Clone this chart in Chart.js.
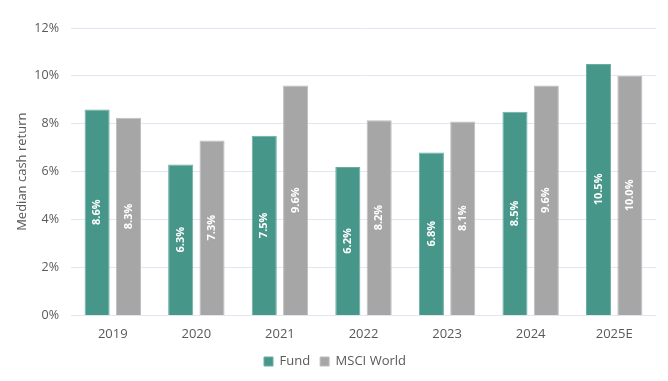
<!DOCTYPE html>
<html>
<head>
<meta charset="utf-8">
<script src="https://cdn.jsdelivr.net/npm/chart.js@4/dist/chart.umd.min.js"></script>
<style>
html,body{margin:0;padding:0;background:#fff;}
#wrap{width:668px;height:381px;}
</style>
</head>
<body>
<div id="wrap"><canvas id="c" width="668" height="381"></canvas></div>
<script>
const categories = ["2019", "2020", "2021", "2022", "2023", "2024", "2025E"];
const fundValues = [8.6, 6.3, 7.5, 6.2, 6.8, 8.5, 10.5];
const msciValues = [8.25, 7.3, 9.6, 8.15, 8.1, 9.6, 10.0];
const yTicks = [0, 2, 4, 6, 8, 10, 12];

const FONT = "'Open Sans', sans-serif";

const barLabels = {
  id: 'barLabels',
  afterDatasetsDraw(chart) {
    const ctx = chart.ctx;
    chart.data.datasets.forEach((ds, di) => {
      const meta = chart.getDatasetMeta(di);
      meta.data.forEach((bar, i) => {
        const v = ds.data[i];
        const txt = v.toFixed(1) + '%';
        const yMid = (bar.y + bar.base) / 2;
        ctx.save();
        ctx.translate(bar.x, yMid);
        ctx.rotate(-Math.PI / 2);
        ctx.fillStyle = '#ffffff';
        ctx.font = "bold 11px " + FONT;
        ctx.textAlign = 'center';
        ctx.textBaseline = 'middle';
        ctx.fillText(txt, 0, 0);
        ctx.restore();
      });
    });
  }
};

new Chart(document.getElementById('c'), {
  type: 'bar',
  data: {
    labels: categories,
    datasets: [
      { label: 'Fund', data: fundValues, backgroundColor: '#46978a', borderColor: '#6aaea3', borderWidth: 1 },
      { label: 'MSCI World', data: msciValues, backgroundColor: '#a6a6a6', borderColor: '#bdbdbd', borderWidth: 1 }
    ]
  },
  options: {
    responsive: false,
    animation: false,
    devicePixelRatio: 1,
    layout: { padding: { top: 28, right: 12, left: 14, bottom: 3 } },
    datasets: { bar: { categoryPercentage: 0.75, barPercentage: 0.8 } },
    plugins: {
      legend: {
        position: 'bottom',
        labels: {
          boxWidth: 9, boxHeight: 9, padding: 10,
          color: '#595959',
          font: { family: FONT, size: 13 }
        }
      },
      tooltip: { enabled: false }
    },
    scales: {
      x: {
        grid: { display: false },
        border: { display: false },
        ticks: { color: '#595959', font: { family: FONT, size: 13 }, padding: 3 }
      },
      y: {
        min: 0, max: 12,
        afterBuildTicks(axis) { axis.ticks = yTicks.map(v => ({ value: v })); },
        afterFit(axis) { axis.width = 57; },
        grid: { color: '#e1e6f2', lineWidth: 1, drawTicks: false },
        border: { display: false },
        ticks: {
          color: '#595959', font: { family: FONT, size: 12.5 }, padding: 12,
          callback: v => v + '%'
        },
        title: {
          display: true, text: 'Median cash return', color: '#595959',
          font: { family: FONT, size: 13 }, padding: { top: 0, bottom: 4 }
        }
      }
    }
  },
  plugins: [barLabels]
});
</script>
</body>
</html>
